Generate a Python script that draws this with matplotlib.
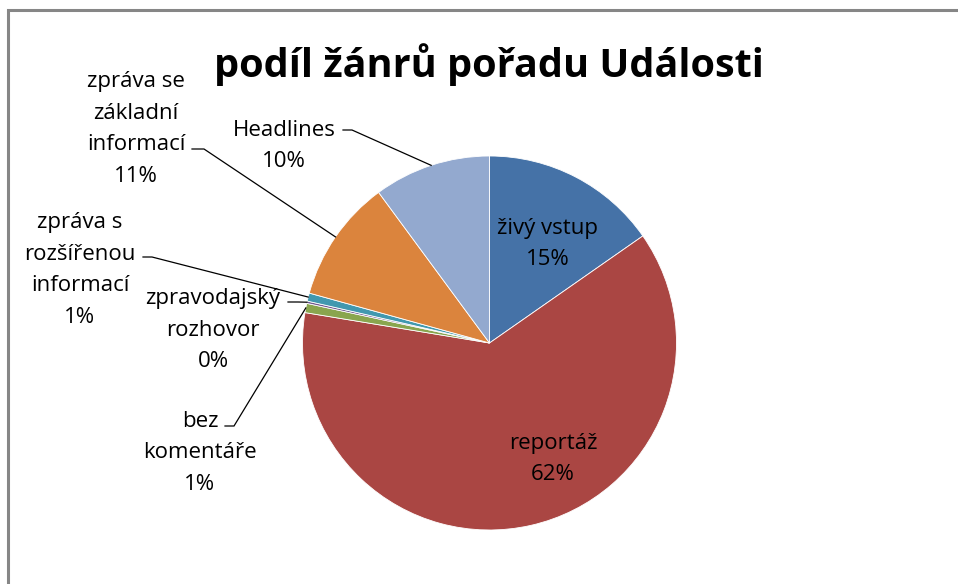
import numpy as np
import matplotlib
matplotlib.use("Agg")
from matplotlib import pyplot as plt
from matplotlib.patches import Rectangle

# data (share of genres, clockwise from the top)
labels = ['živý vstup', 'reportáž', 'bez\nkomentáře', 'zpravodajský\nrozhovor',
          'zpráva s\nrozšířenou\ninformací', 'zpráva se\nzákladní\ninformací', 'Headlines']
values = [15.3, 62.3, 0.8, 0.2, 0.7, 10.6, 10.1]
pct_text = ['15%', '62%', '1%', '0%', '1%', '11%', '10%']
colors = ['#4572A7', '#AA4643', '#89A54E', '#71588F', '#4198AF', '#DB843D', '#93A9CF']

W, H = 958, 584
plt.rcParams['font.family'] = ['Open Sans', 'DejaVu Sans']

fig = plt.figure(figsize=(W/100, H/100), dpi=100)
ax = fig.add_axes([0, 0, 1, 1])

def Y(y):
    # image y (top-down) -> axes y
    return H - y

# chart frame
ax.add_patch(Rectangle((8, Y(590)), 960, 580, fill=False, ec='#868686', lw=2.2))

cx, cy, r = 489.5, 343, 187
wedges, _ = ax.pie(values, colors=colors, startangle=90, counterclock=False,
                   center=(cx, Y(cy)), radius=r, frame=True,
                   wedgeprops=dict(linewidth=0.6, edgecolor='white'))
ax.set_xlim(0, W)
ax.set_ylim(0, H)
ax.set_aspect('equal')
ax.axis('off')

fs = 16
ls = 1.65
# inside labels
ax.text(548, Y(244), labels[0] + '\n' + pct_text[0], ha='center', va='center',
        fontsize=fs, linespacing=ls)
ax.text(553, Y(459), labels[1] + '\n' + pct_text[1], ha='center', va='center',
        fontsize=fs, linespacing=ls)

# outside labels: (index, text centre, line start, elbow)
outside = [
    (6, (284, 146), (343, 130), (352, 130)),
    (5, (136, 129), (192, 149), (204, 149)),
    (4, (80, 270), (143, 257), (152, 257)),
    (3, (213, 330), (288, 302), (298, 302)),
    (2, (200, 453), (225, 426), (234, 426)),
]
for i, (tx, ty), (sx, sy), (ex, ey) in outside:
    ax.text(tx, Y(ty), labels[i] + '\n' + pct_text[i], ha='center', va='center',
            fontsize=fs, linespacing=ls)
    w = wedges[i]
    mid = np.deg2rad((w.theta1 + w.theta2) / 2)
    px = cx + r * np.cos(mid)
    py = Y(cy) + r * np.sin(mid)
    ax.plot([sx, ex, px], [Y(sy), Y(ey), py], color='black', lw=0.9,
            solid_joinstyle='miter')

ax.text(489, Y(65), 'podíl žánrů pořadu Události', ha='center', va='center',
        fontsize=28.5, fontweight='bold')

fig.savefig('out.png', dpi=100)
